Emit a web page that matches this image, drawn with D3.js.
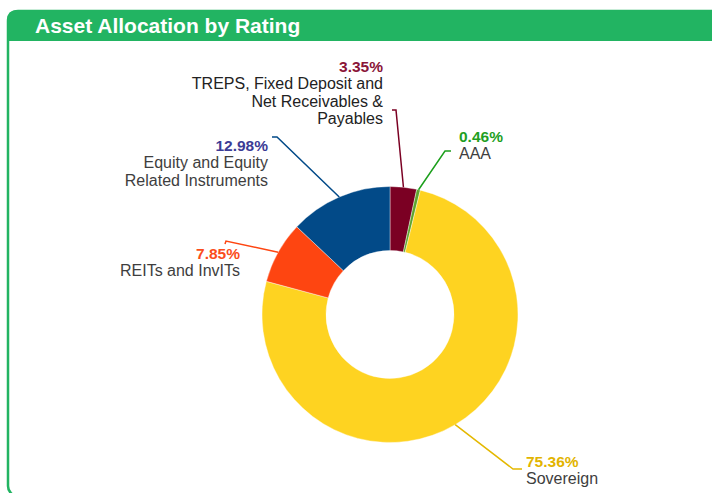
<!DOCTYPE html>
<html>
<head>
<meta charset="utf-8">
<script src="https://cdn.jsdelivr.net/npm/d3@7"></script>
<style>
  body { margin: 0; background: #fff; overflow: hidden; }
  text { font-family: "Liberation Sans", Arial, sans-serif; }
</style>
</head>
<body>
<div id="vis"></div>
<script>
// data (clockwise from 12 o'clock)
const names = [
  ["TREPS, Fixed Deposit and", "Net Receivables &", "Payables"],
  ["AAA"],
  ["Sovereign"],
  ["REITs and InvITs"],
  ["Equity and Equity", "Related Instruments"]
];
const values = [3.35, 0.46, 75.36, 7.85, 12.98];
const sliceColors = ["#7b0023", "#5ea52c", "#fed321", "#fe4511", "#024a88"];
const pctColors = ["#8a1538", "#1f9f1f", "#e2b400", "#fb4d1c", "#3c3c96"];
const lineColors = ["#7b0023", "#1c9f1c", "#e4b800", "#fe4511", "#024a88"];

// label layout, offsets from the donut centre
const labelLayout = [
  { tx: -7,   ty: -242.5, anchor: "end",   tick: [2, -204.5],  elbow: [6, -204.5] },
  { tx: 69,   ty: -172.5, anchor: "start", tick: [61, -163.5], elbow: [55, -163.5] },
  { tx: 136,  ty: 152.5,  anchor: "start", tick: [132, 154.5], elbow: [123, 154.5] },
  { tx: -150, ty: -55.5,  anchor: "end",   tick: [-165, -70.5], elbow: [-164, -73.5] },
  { tx: -122, ty: -163.5, anchor: "end",   tick: [-118, -177.5], elbow: [-113, -177.5] }
];

const width = 712, height = 493;
const cx = 390, cy = 314.5, outerR = 128, innerR = 64;

const svg = d3.select("#vis").append("svg")
  .attr("width", width)
  .attr("height", height)
  .style("display", "block");

// panel frame + header
svg.append("rect")
  .attr("x", 8).attr("y", 11)
  .attr("width", 740).attr("height", 485)
  .attr("rx", 10)
  .attr("fill", "#fff")
  .attr("stroke", "#22b462")
  .attr("stroke-width", 2.5);

svg.append("path")
  .attr("d", "M7,41 L7,20 Q7,10 17,10 L712,10 L712,41 Z")
  .attr("fill", "#22b462");

svg.append("text")
  .attr("x", 35).attr("y", 33)
  .attr("fill", "#fff")
  .attr("font-size", 21)
  .attr("font-weight", "bold")
  .text("Asset Allocation by Rating");

// donut
const pie = d3.pie().sort(null).value(d => d)(values);
const arc = d3.arc().innerRadius(innerR).outerRadius(outerR);

const g = svg.append("g").attr("transform", `translate(${cx},${cy})`);

g.selectAll("path.slice")
  .data(pie)
  .join("path")
  .attr("class", "slice")
  .attr("d", arc)
  .attr("fill", (d, i) => sliceColors[i])
  .attr("stroke", "#fff")
  .attr("stroke-width", 0.4);

// connectors
g.selectAll("path.conn")
  .data(pie)
  .join("path")
  .attr("class", "conn")
  .attr("fill", "none")
  .attr("stroke", (d, i) => lineColors[i])
  .attr("stroke-width", 1.5)
  .attr("d", (d, i) => {
    const L = labelLayout[i];
    const a = (d.startAngle + d.endAngle) / 2;
    const p = [outerR * Math.sin(a), -outerR * Math.cos(a)];
    return d3.line()([L.tick, L.elbow, p]);
  });

// labels
pie.forEach((d, i) => {
  const L = labelLayout[i];
  const t = g.append("text")
    .attr("text-anchor", L.anchor);
  t.append("tspan")
    .attr("x", L.tx).attr("y", L.ty)
    .attr("font-size", 15.5)
    .attr("font-weight", "bold")
    .attr("fill", pctColors[i])
    .text(values[i].toFixed(2) + "%");
  names[i].forEach((line, j) => {
    t.append("tspan")
      .attr("x", L.tx).attr("y", L.ty + 17.3 * (j + 1))
      .attr("font-size", 16)
      .attr("fill", i === 0 ? "#222" : "#3e3e3e")
      .text(line);
  });
});
</script>
</body>
</html>
